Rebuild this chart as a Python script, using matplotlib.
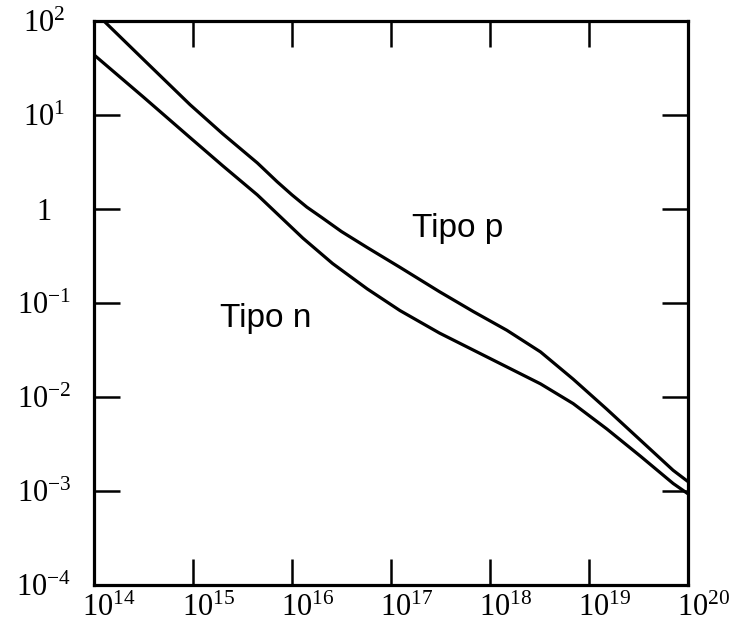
import numpy as np
import matplotlib
matplotlib.use("Agg")
import matplotlib.pyplot as plt
import matplotlib.transforms as mtransforms

# curves, as decade exponents (log10)
p_logx = [14.1, 14.5, 14.97, 15.3, 15.65, 15.85, 16.0, 16.15, 16.3, 16.5, 16.76,
          17.09, 17.49, 17.83, 18.17, 18.51, 18.84, 19.18, 19.52, 19.85, 20.0]
p_logy = [2.0, 1.59, 1.11, 0.80, 0.49, 0.29, 0.15, 0.02, -0.09, -0.24, -0.41,
          -0.62, -0.88, -1.09, -1.29, -1.52, -1.81, -2.13, -2.46, -2.78, -2.90]

n_logx = [14.0, 14.5, 14.97, 15.3, 15.65, 15.9, 16.11, 16.41, 16.76, 17.09,
          17.49, 17.83, 18.17, 18.51, 18.84, 19.18, 19.52, 19.85, 20.0]
n_logy = [1.64, 1.19, 0.76, 0.46, 0.15, -0.10, -0.31, -0.58, -0.85, -1.08,
          -1.32, -1.50, -1.68, -1.86, -2.07, -2.34, -2.63, -2.92, -3.03]

xticks = [1e14, 1e15, 1e16, 1e17, 1e18, 1e19, 1e20]
xticklabels = [r'$10^{14}$', r'$10^{15}$', r'$10^{16}$', r'$10^{17}$',
               r'$10^{18}$', r'$10^{19}$', r'$10^{20}$']
yticks = [1e-4, 1e-3, 1e-2, 1e-1, 1, 1e1, 1e2]
yticklabels = [r'$10^{-4}$', r'$10^{-3}$', r'$10^{-2}$', r'$10^{-1}$', '1',
               r'$10^{1}$', r'$10^{2}$']

plt.rcParams['mathtext.fontset'] = 'custom'
plt.rcParams['mathtext.rm'] = 'Liberation Serif'
plt.rcParams['mathtext.it'] = 'Liberation Serif'
plt.rcParams['font.family'] = 'Liberation Serif'

fig = plt.figure(figsize=(7.49, 6.26), dpi=100)
ax = fig.add_axes([94/749, 1 - 585/626, (688 - 94)/749, (585 - 21)/626])

ax.plot(10**np.array(p_logx), 10**np.array(p_logy), color='black', lw=2.3,
        solid_capstyle='butt', solid_joinstyle='round')
ax.plot(10**np.array(n_logx), 10**np.array(n_logy), color='black', lw=2.3,
        solid_capstyle='butt', solid_joinstyle='round')

ax.set_xscale('log')
ax.set_yscale('log')
ax.set_xlim(1e14, 1e20)
ax.set_ylim(1e-4, 1e2)

ax.set_xticks(xticks)
ax.set_xticklabels(xticklabels)
ax.set_yticks(yticks)
ax.set_yticklabels(yticklabels)
ax.minorticks_off()

ax.tick_params(axis='both', which='major', direction='in', length=19, width=1.8,
               top=True, right=True, labelsize=22, color='black')
ax.tick_params(axis='x', pad=6)
ax.tick_params(axis='y', pad=36)

for lbl in ax.get_yticklabels():
    lbl.set_horizontalalignment('center')
offset = mtransforms.ScaledTranslation(11/72, 0, fig.dpi_scale_trans)
for lbl in ax.get_xticklabels():
    lbl.set_transform(lbl.get_transform() + offset)

for side in ax.spines.values():
    side.set_linewidth(2.3)

ax.text(10**17.67, 10**-0.21, 'Tipo p', fontsize=24, family='Liberation Sans',
        ha='center', va='center')
ax.text(10**15.73, 10**-1.16, 'Tipo n', fontsize=24, family='Liberation Sans',
        ha='center', va='center')

fig.savefig('out.png', dpi=100, facecolor='white')
